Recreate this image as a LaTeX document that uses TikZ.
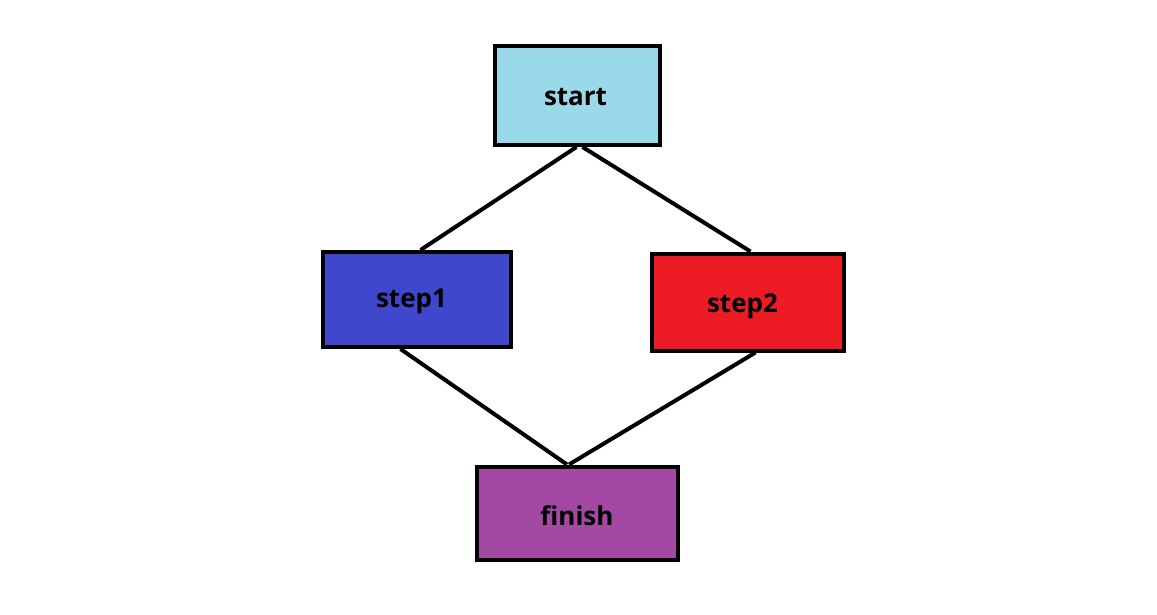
\documentclass[tikz,border=0pt]{standalone}
\usepackage{fontspec}
\setmainfont{Open Sans}
\usetikzlibrary{calc}
\definecolor{cstart}{HTML}{99D9EA}
\definecolor{cstep1}{HTML}{3F48CC}
\definecolor{cstep2}{HTML}{ED1C24}
\definecolor{cfinish}{HTML}{A349A4}
\newcommand{\lowr}[2]{\raisebox{-#1pt}[\height][\depth]{#2}}
\tikzset{
  box/.style={draw=black, line width=4pt, inner sep=0pt, font=\fontsize{26}{30}\selectfont\bfseries},
  link/.style={draw=black, line width=4pt}
}
\begin{document}
\begin{tikzpicture}[x=1pt,y=-1pt]
\useasboundingbox[fill=white] (0,0) rectangle (1157,615);
\node[box, fill=cstart, minimum width=165pt, minimum height=99pt] (start) at (577.5,95.5) {\hspace*{-4pt}\lowr{2}{start}};
\node[box, fill=cstep1, minimum width=188pt, minimum height=95pt] (step1) at (416.5,299.5) {\hspace*{-10pt}\lowr{2}{step1}};
\node[box, fill=cstep2, minimum width=192pt, minimum height=97pt] (step2) at (747.5,302) {\lowr{4}{step2}\hspace*{10pt}};
\node[box, fill=cfinish, minimum width=201pt, minimum height=93pt] (finish) at (577,513) {\lowr{3}{finish}};
\draw[link] ($(start.south)+(-1,0)$) -- ($(step1.north)+(4,0)$);
\draw[link] ($(start.south)+(5,0)$) -- ($(step2.north)+(3,0)$);
\draw[link] ($(step1.south)+(-16,0)$) -- ($(finish.north)+(-10,0)$);
\draw[link] ($(step2.south)+(8,0)$) -- ($(finish.north)+(-8,0)$);
\end{tikzpicture}
\end{document}
